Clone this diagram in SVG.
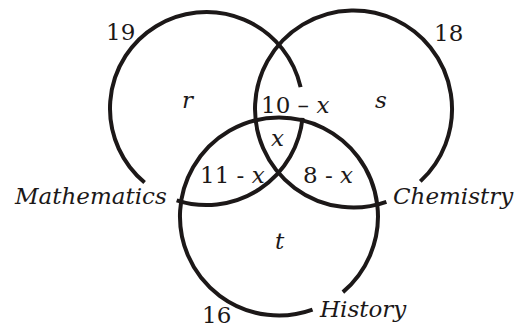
<svg xmlns="http://www.w3.org/2000/svg" width="514" height="329" viewBox="0 0 514 329">
<style>
.c{fill:none;stroke:#1c1818;stroke-width:4;stroke-linecap:butt}
text{font-family:"DejaVu Serif","Liberation Serif",serif;font-size:23px;fill:#1c1818}
.i{font-style:italic}
</style>
<rect width="514" height="329" fill="#fff"/>
<g id="connectors"></g>
<g id="mathematics">
<path class="c" d="M302.54,117.92 A96.5,96.5 0 0 1 176.68,200.28"/>
<path class="c" d="M144.6,182.53 A96.5,96.5 0 1 1 300.6,87.12"/>
<text class="i" x="15" y="204">Mathematics</text>
<text x="106" y="40">19</text>
</g>
<g id="chemistry">
<path class="c" d="M386.38,201.85 A98.5,98.5 0 1 1 420.3,181.4"/>
<text class="i" x="393" y="204">Chemistry</text>
<text x="434" y="41">18</text>
</g>
<g id="history">
<path class="c" d="M312.53,309.65 A99,99 0 1 1 342.9,292.1"/>
<text class="i" x="320" y="317">History</text>
<text x="202" y="323">16</text>
</g>
<g id="regions">
<text class="i" x="182" y="108">r</text>
<text class="i" x="375" y="108">s</text>
<text x="261" y="113">10 – <tspan class="i">x</tspan></text>
<text class="i" x="271" y="146">x</text>
<text x="200" y="183">11 - <tspan class="i">x</tspan></text>
<text x="303" y="183">8 - <tspan class="i">x</tspan></text>
<text class="i" x="275" y="249">t</text>
</g>
</svg>
